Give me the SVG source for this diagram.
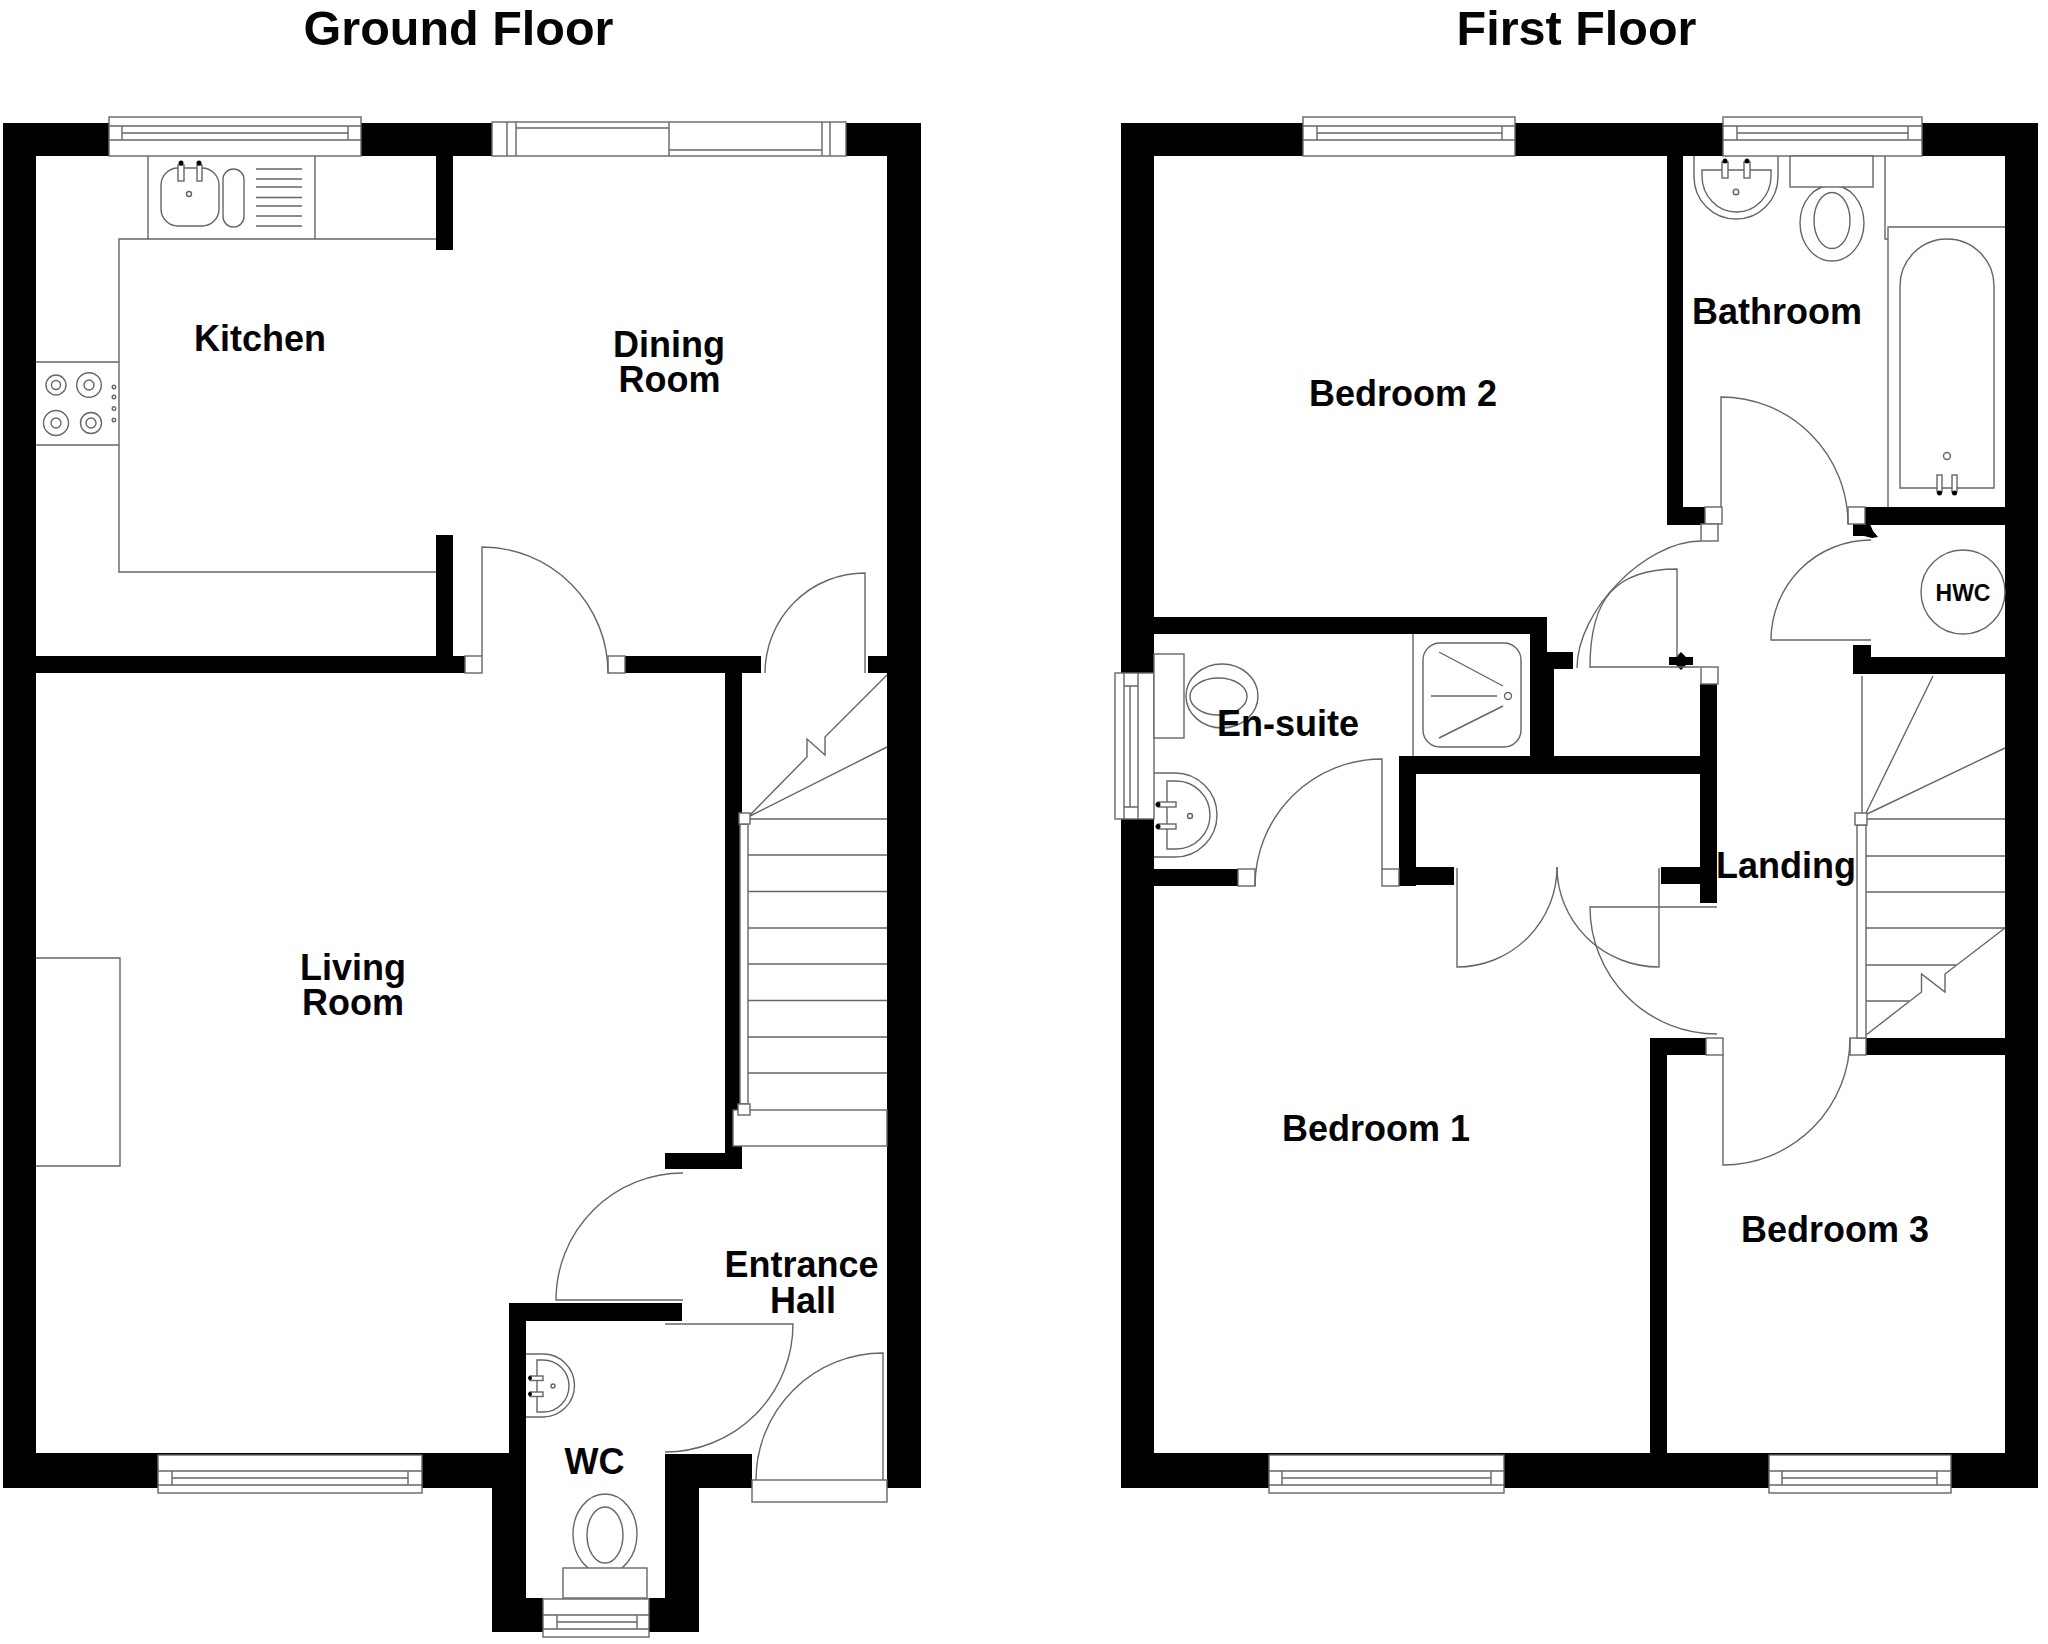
<svg xmlns="http://www.w3.org/2000/svg" width="2048" height="1644" viewBox="0 0 2048 1644">
<style>
text{font-family:"Liberation Sans",Arial,sans-serif;font-weight:700;fill:#050508;text-anchor:middle}
.r{font-size:36px}.t{font-size:48.500px}
.w rect,.w path{fill:#000;stroke:none}
.l path,.l rect,.l ellipse,.l circle{fill:none;stroke:#666;stroke-width:1.4}
.l .f{fill:#fff}
.l .d{fill:#000;stroke:none}
</style>
<rect width="2048" height="1644" fill="#fff"/>
<g id="walls-ground" class="w">
<rect x="3" y="123" width="33" height="1365"/>
<rect x="3" y="123" width="490" height="33"/>
<rect x="846" y="123" width="75" height="33"/>
<rect x="887" y="123" width="34" height="1365"/>
<rect x="436" y="156" width="17" height="94"/>
<rect x="436" y="535" width="17" height="121"/>
<rect x="36" y="656" width="429" height="17"/>
<rect x="625" y="656" width="136" height="17"/>
<rect x="868" y="656" width="19" height="17"/>
<rect x="725" y="673" width="17" height="496"/>
<rect x="665" y="1153" width="77" height="16"/>
<rect x="509" y="1303" width="173" height="18"/>
<rect x="509" y="1321" width="17" height="167"/>
<rect x="3" y="1453" width="523" height="35"/>
<rect x="492" y="1488" width="34" height="144"/>
<rect x="492" y="1598" width="51" height="34"/>
<rect x="649" y="1598" width="50" height="34"/>
<rect x="665" y="1454" width="34" height="178"/>
<rect x="665" y="1454" width="87" height="34"/>
</g>
<g id="walls-first" class="w">
<rect x="1121" y="123" width="33" height="1365"/>
<rect x="1121" y="123" width="917" height="33"/>
<rect x="2005" y="123" width="33" height="1365"/>
<rect x="1121" y="1453" width="917" height="35"/>
<rect x="1667" y="156" width="16" height="369"/>
<rect x="1667" y="507" width="38" height="18"/>
<rect x="1865" y="507" width="140" height="18"/>
<rect x="1154" y="617" width="393" height="17"/>
<rect x="1530" y="617" width="17" height="139"/>
<rect x="1530" y="669" width="24" height="87"/>
<rect x="1530" y="652" width="43" height="17"/>
<rect x="1399" y="756" width="318" height="18"/>
<rect x="1399" y="756" width="17" height="130"/>
<rect x="1416" y="867" width="38" height="18"/>
<rect x="1154" y="869" width="84" height="17"/>
<rect x="1661" y="867" width="39" height="17"/>
<rect x="1700" y="684" width="17" height="219"/>
<rect x="1853" y="657" width="152" height="17"/>
<rect x="1853" y="645" width="18" height="12"/>
<rect x="1650" y="1038" width="56" height="17"/>
<rect x="1650" y="1055" width="17" height="398"/>
<rect x="1866" y="1038" width="139" height="17"/>
<path d="M1853 524H1870L1873 531L1878 537L1872 538L1864 536H1853Z"/>
<path d="M1669 657H1676L1681 652L1686 657H1693V665H1686L1681 670L1676 665H1669Z"/>
</g>
<g id="windows" class="l">
<g id="win-kitchen"><rect class="f" x="109" y="117" width="252" height="39"/><path d="M109 126H361M122 133H348M109 140H361M122 126V140M348 126V140"/></g>
<g id="win-dining"><rect class="f" x="492" y="122" width="354" height="34"/><path d="M507 122V156M516 122V156M822 122V156M830 122V156M669 122V156M516 128H669M669 150H822"/></g>
<g id="win-living"><rect class="f" x="158" y="1455" width="264" height="38"/><path d="M158 1471H422M172 1478H408M158 1485H422M172 1471V1485M408 1471V1485"/></g>
<g id="win-wc"><rect class="f" x="543" y="1599" width="106" height="38"/><path d="M543 1615H649M557 1622H637M543 1629H649M557 1615V1629M637 1615V1629"/></g>
<g id="win-front"><rect class="f" x="752" y="1480" width="135" height="22"/></g>
<g id="win-bed2"><rect class="f" x="1303" y="117" width="212" height="39"/><path d="M1303 126H1515M1317 133H1502M1303 140H1515M1317 126V140M1502 126V140"/></g>
<g id="win-bath"><rect class="f" x="1723" y="117" width="199" height="39"/><path d="M1723 126H1922M1737 133H1908M1723 140H1922M1737 126V140M1908 126V140"/></g>
<g id="win-ensuite"><rect class="f" x="1115" y="673" width="39" height="146"/><path d="M1124 673V819M1130 686V807M1138 673V819M1124 686H1138M1124 807H1138"/></g>
<g id="win-bed1"><rect class="f" x="1269" y="1455" width="235" height="38"/><path d="M1269 1471H1504M1282 1478H1491M1269 1485H1504M1282 1471V1485M1491 1471V1485"/></g>
<g id="win-bed3"><rect class="f" x="1769" y="1455" width="182" height="38"/><path d="M1769 1471H1951M1782 1478H1937M1769 1485H1951M1782 1471V1485M1937 1471V1485"/></g>
</g>
<g id="kitchen-fittings" class="l">
<path d="M436 239H119V362M119 445V572H436M148 156V239M315 156V239"/>
<path d="M36 362H119V445H36"/>
<rect x="161" y="168" width="58" height="58" rx="17"/>
<rect x="223" y="169" width="21" height="58" rx="10.500"/>
<path d="M256 169H302M256 179H302M256 187H302M256 197.500H302M256 206H302M256 216H302M256 226H302"/>
<circle cx="189" cy="194" r="2.500"/>
<rect class="f" x="178" y="165" width="6" height="16"/><rect class="f" x="197" y="165" width="5" height="16"/>
<circle class="d" cx="181" cy="163" r="2.500"/><circle class="d" cx="199" cy="163" r="2.500"/>
<circle cx="56" cy="385" r="10"/><circle cx="56" cy="385" r="4.500"/>
<circle cx="89" cy="385" r="12.300"/><circle cx="89" cy="385" r="5"/>
<circle cx="56" cy="423" r="12.500"/><circle cx="56" cy="423" r="5"/>
<circle cx="91" cy="423" r="10.500"/><circle cx="91" cy="423" r="5"/>
<circle cx="114" cy="387" r="1.800"/><circle cx="114" cy="397" r="1.800"/><circle cx="114" cy="408.600" r="1.800"/><circle cx="114" cy="420" r="1.800"/>
</g>
<g id="living-chimney" class="l"><path d="M36 958H120V1166H36"/></g>
<g id="doors-ground" class="l">
<rect class="f" x="465" y="656" width="17" height="17"/><rect class="f" x="608" y="656" width="17" height="17"/>
<path d="M482 656V547A126 126 0 0 1 608 673"/>
<path d="M865 673V573A100 100 0 0 0 765 673"/>
<path d="M683 1300H556A127 127 0 0 1 683 1173"/>
<path d="M665 1324H793A128 128 0 0 1 665 1452"/>
<path d="M883 1480V1353A127 127 0 0 0 756 1480"/>
</g>
<g id="stairs-ground" class="l">
<path d="M887 675L825 737V755L807 739V757L750 815M887 747L750 816"/>
<path d="M750 819H887M748 855H887M748 891.500H887M748 928H887M748 964H887M748 1000.500H887M748 1037H887M748 1073H887"/>
<rect class="f" x="733" y="1110" width="154" height="36"/>
<rect class="f" x="740" y="824" width="8" height="280"/>
<rect class="f" x="739" y="813" width="11" height="11"/><rect class="f" x="738" y="1104" width="12" height="11"/>
</g>
<g id="wc-fittings" class="l">
<path d="M526 1354H543A31.500 31.500 0 0 1 543 1417H526"/>
<path d="M537 1360H543A26 26 0 0 1 543 1412H537Z"/>
<rect class="f" x="530" y="1376" width="13" height="4.500"/><rect class="f" x="530" y="1392" width="13" height="4.500"/>
<circle class="d" cx="530" cy="1378" r="2"/><circle class="d" cx="530" cy="1394" r="2"/>
<circle cx="553" cy="1386" r="2"/>
<ellipse cx="605" cy="1534" rx="32" ry="40"/><ellipse cx="605" cy="1535" rx="18" ry="28"/>
<rect class="f" x="563" y="1568" width="84" height="30"/>
</g>
<g id="ensuite-fittings" class="l">
<ellipse cx="1222" cy="696" rx="36" ry="32"/><ellipse cx="1218.500" cy="696.500" rx="28.500" ry="18.500"/>
<rect class="f" x="1154" y="654" width="30" height="84"/>
<path d="M1154 773H1175A42 42 0 0 1 1175 857H1154"/>
<path d="M1167 781H1176A34 34 0 0 1 1176 849H1167Z"/>
<rect class="f" x="1158" y="802" width="18" height="5"/><rect class="f" x="1158" y="824" width="18" height="5"/>
<circle class="d" cx="1158" cy="804.500" r="2.500"/><circle class="d" cx="1158" cy="826.500" r="2.500"/>
<circle cx="1190" cy="816" r="2.500"/>
<path d="M1413 634V756"/>
<rect x="1423" y="643" width="98" height="104" rx="17"/>
<path d="M1439 652L1503 686M1431 696H1497M1439 738L1503 706"/>
<circle cx="1508" cy="696" r="3.500"/>
</g>
<g id="bathroom-fittings" class="l">
<path d="M1694 156V177A42 42 0 0 0 1778 177V156"/>
<path d="M1702 170H1771V176A34.500 36 0 0 1 1702 176Z"/>
<rect class="f" x="1722" y="162" width="6" height="16"/><rect class="f" x="1744" y="162" width="6" height="16"/>
<circle class="d" cx="1725" cy="161" r="2.500"/><circle class="d" cx="1747" cy="161" r="2.500"/>
<circle cx="1736" cy="192" r="2.800"/>
<ellipse cx="1832" cy="223" rx="32" ry="38"/><ellipse cx="1832" cy="220.500" rx="18" ry="28"/>
<rect class="f" x="1790" y="156" width="83" height="31"/>
<path d="M1885 156V239H1888M1888 507V227H2005"/>
<path d="M1900 488V286A47 47 0 0 1 1994 286V488Z"/>
<circle cx="1947" cy="456" r="3.500"/>
<rect class="f" x="1937" y="475" width="5" height="17"/><rect class="f" x="1952" y="475" width="5" height="17"/>
<circle class="d" cx="1939.500" cy="493" r="2.500"/><circle class="d" cx="1954.500" cy="493" r="2.500"/>
</g>
<g id="doors-first" class="l">
<rect class="f" x="1238" y="869" width="17" height="17"/><rect class="f" x="1382" y="869" width="17" height="17"/>
<path d="M1382 869V759A127 127 0 0 0 1255 886"/>
<path d="M1457 868V967A100 100 0 0 0 1557 867"/>
<path d="M1659 868V967A102 100 0 0 1 1557 867"/>
<path d="M1717 907H1590A127 127 0 0 0 1717 1034"/>
<rect class="f" x="1706" y="1038" width="17" height="17"/><rect class="f" x="1850" y="1038" width="16" height="17"/>
<path d="M1723 1055V1165A127 127 0 0 0 1850 1038"/>
<rect class="f" x="1705" y="507" width="17" height="17"/><rect class="f" x="1848" y="507" width="17" height="17"/>
<rect class="f" x="1701" y="524" width="17" height="17"/>
<path d="M1721 507V397A127 127 0 0 1 1848 524"/>
<path d="M1871 640H1771A100 100 0 0 1 1871 540"/>
<path d="M1701 541C1645 541 1577 611 1577 668"/>
<path d="M1700 667H1590C1590 598 1616 569 1677 569V657"/>
<rect class="f" x="1701" y="667" width="17" height="17"/>
</g>
<g id="stairs-first" class="l">
<path d="M1862 676V813M1865 815L1933 676M1865 815L2005 748"/>
<path d="M1866 819H2005M1866 856H2005M1866 892H2005M1866 928H2005M1866 965H1956M1866 1001H1909"/>
<path d="M2005 928L1945 974V992L1921.500 974V992L1866 1035"/>
<rect class="f" x="1857" y="825" width="9" height="213"/>
<rect class="f" x="1855" y="813" width="12" height="12"/>
<circle cx="1963" cy="592" r="42"/>
</g>
<g id="labels">
<text class="t" x="458.500" y="45">Ground Floor</text>
<text class="t" x="1576.500" y="45">First Floor</text>
<text class="r" x="260" y="351">Kitchen</text>
<text class="r" x="669" y="357">Dining</text>
<text class="r" x="669.500" y="392">Room</text>
<text class="r" x="353" y="980">Living</text>
<text class="r" x="353" y="1015">Room</text>
<text class="r" x="801.500" y="1277">Entrance</text>
<text class="r" x="803" y="1313">Hall</text>
<text class="r" x="594.500" y="1474">WC</text>
<text class="r" x="1403" y="406">Bedroom 2</text>
<text class="r" x="1777" y="324">Bathroom</text>
<text class="r" x="1288" y="736">En-suite</text>
<text class="r" x="1786" y="878">Landing</text>
<text class="r" x="1376" y="1141">Bedroom 1</text>
<text class="r" x="1835" y="1242">Bedroom 3</text>
<text x="1963" y="601" font-size="23">HWC</text>
</g>
</svg>
